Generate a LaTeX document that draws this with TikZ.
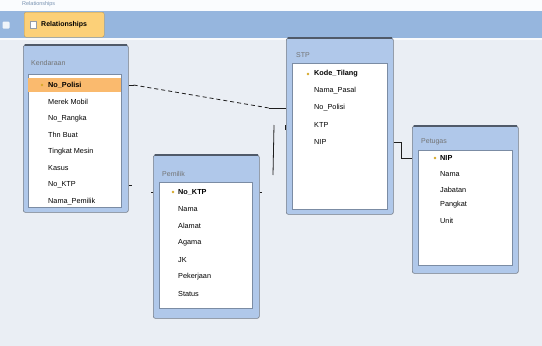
\documentclass[tikz,border=0pt]{standalone}
\usepackage{fontspec}
\setmainfont{Liberation Sans}
\usetikzlibrary{positioning,calc}
\definecolor{acbg}{RGB}{234,238,244}
\definecolor{actab}{RGB}{150,182,222}
\definecolor{actabon}{RGB}{252,208,120}
\definecolor{acedge}{RGB}{80,90,105}
\definecolor{acframe}{RGB}{176,200,234}
\definecolor{achead}{RGB}{214,226,242}
\definecolor{acsel}{RGB}{250,186,110}
\definecolor{ackey}{RGB}{214,168,40}
\definecolor{acline}{RGB}{30,30,30}
\tikzset{
  tblframe/.style={
    draw=acedge!80, fill=acframe, line width=0.6pt, rounded corners=2pt,
    anchor=north west, inner sep=0pt
  },
  tbltop/.style={draw=acedge, line width=1.3pt, line cap=round},
  tblbody/.style={draw=acframe!70!black, fill=white, anchor=north west, inner sep=0pt, line width=0.3pt},
  tbltitle/.style={anchor=west, inner sep=0pt, text=black!55, font=\fontsize{7}{8}\selectfont},
  fld/.style={anchor=west, inner sep=0pt, font=\fontsize{7.3}{8}\selectfont},
  keyfld/.style={fld, font=\fontsize{7.3}{8}\selectfont\bfseries},
  keyico/.style={fill=ackey, circle, inner sep=0pt, minimum size=2.6pt},
  sel/.style={fill=acsel, anchor=north west, inner sep=0pt},
  rel/.style={draw=acline, line width=0.8pt},
  reldash/.style={rel, dash pattern=on 4pt off 3pt}
}
\begin{document}
\begin{tikzpicture}[x=1pt,y=-1pt]
  \useasboundingbox (0,0) rectangle (542,346);
  \fill[acbg] (0,0) rectangle (542,346);
  % ribbon and tab
  \fill[white!94!acframe] (0,0) rectangle (542,11);
  \node[anchor=west, inner sep=0pt, text=actab!80!black, font=\fontsize{5.5}{6}\selectfont] (rib) at (22,4) {Relationships};
  \fill[actab] (0,11) rectangle (542,38);
  \fill[white!70!acbg] (0,38) rectangle (542,40);
  \node[fill=white!85!actab, minimum width=7pt, minimum height=7pt, inner sep=0pt, rounded corners=1pt] (nav) at (6,25) {};
  \node[fill=actabon, draw=actabon!70!black, line width=0.3pt, rounded corners=2pt, anchor=north west,
        minimum width=80pt, minimum height=25pt, inner sep=0pt] (tab) at (24,12) {};
  \node[draw=acedge!60, fill=white, minimum width=6pt, minimum height=7pt, inner sep=0pt] (tabico) at (33,25) {};
  \node[anchor=west, inner sep=0pt, font=\fontsize{7}{8}\selectfont\bfseries] (tabtxt) at (41,25) {Relationships};

  % Kendaraan
  \node[tblframe, minimum width=105pt, minimum height=167pt] (kend) at (23,45) {};
  \draw[tbltop] ([xshift=2pt]kend.north west) -- ([xshift=-2pt]kend.north east);
  \node[tbltitle] (kend-t) at (31,63) {Kendaraan};
  \node[tblbody, minimum width=93pt, minimum height=133pt] (kend-b) at (28,74) {};
  \node[sel, minimum width=93pt, minimum height=14pt] (kend-s) at (28,78) {};
  \node[keyico] (kend-k) at (42,85) {};
  \node[keyfld] (k1) at (48,85) {No\_Polisi};
  \node[fld] (k2) at (48,101.7) {Merek Mobil};
  \node[fld] (k3) at (48,118.4) {No\_Rangka};
  \node[fld] (k4) at (48,135.1) {Thn Buat};
  \node[fld] (k5) at (48,151.8) {Tingkat Mesin};
  \node[fld] (k6) at (48,168.5) {Kasus};
  \node[fld] (k7) at (48,185.2) {No\_KTP};
  \node[fld] (k8) at (48,202) {Nama\_Pemilik};

  % Pemilik
  \node[tblframe, minimum width=106pt, minimum height=163pt] (pem) at (153,155) {};
  \draw[tbltop] ([xshift=2pt]pem.north west) -- ([xshift=-2pt]pem.north east);
  \node[tbltitle] (pem-t) at (162,174) {Pemilik};
  \node[tblbody, minimum width=93pt, minimum height=126pt] (pem-b) at (159,182) {};
  \node[keyico] (pem-k) at (173,192) {};
  \node[keyfld] (p1) at (178,192) {No\_KTP};
  \node[fld] (p2) at (178,209) {Nama};
  \node[fld] (p3) at (178,226) {Alamat};
  \node[fld] (p4) at (178,243) {Agama};
  \node[fld] (p5) at (178,260) {JK};
  \node[fld] (p6) at (178,277) {Pekerjaan};
  \node[fld] (p7) at (178,294) {Status};

  % STP
  \node[tblframe, minimum width=107pt, minimum height=176pt] (stp) at (286,38) {};
  \draw[tbltop] ([xshift=2pt]stp.north west) -- ([xshift=-2pt]stp.north east);
  \node[tbltitle] (stp-t) at (296,55) {STP};
  \node[tblbody, minimum width=95pt, minimum height=146pt] (stp-b) at (292,63) {};
  \node[keyico] (stp-k) at (308,74) {};
  \node[keyfld] (s1) at (314,74) {Kode\_Tilang};
  \node[fld] (s2) at (314,91) {Nama\_Pasal};
  \node[fld] (s3) at (314,108) {No\_Polisi};
  \node[fld] (s4) at (314,125) {KTP};
  \node[fld] (s5) at (314,142) {NIP};

  % Petugas
  \node[tblframe, minimum width=106pt, minimum height=147pt] (ptg) at (412,126) {};
  \draw[tbltop] ([xshift=2pt]ptg.north west) -- ([xshift=-2pt]ptg.north east);
  \node[tbltitle] (ptg-t) at (421,142) {Petugas};
  \node[tblbody, minimum width=94pt, minimum height=115pt] (ptg-b) at (418,150) {};
  \node[keyico] (ptg-k) at (435,158) {};
  \node[keyfld] (g1) at (440,158) {NIP};
  \node[fld] (g2) at (440,174) {Nama};
  \node[fld] (g3) at (440,190) {Jabatan};
  \node[fld] (g4) at (440,205) {Pangkat};
  \node[fld] (g5) at (440,221) {Unit};

  % relationships
  \coordinate (r1a) at (kend.east |- k1);
  \coordinate (r1b) at (stp.west |- s3);
  \draw[rel] (r1a) -- ++(5,0) coordinate (r1c);
  \draw[rel] (r1b) -- ++(-17,0) coordinate (r1d);
  \draw[reldash] (r1c) -- (r1d);

  \coordinate (r2a) at (kend.east |- k7);
  \coordinate (r2b) at (pem.west |- p1);
  \draw[rel] (r2a) -- ++(3,0);
  \draw[rel] (r2b) -- ++(-2,0);

  \coordinate (r3a) at (pem.east |- p1);
  \coordinate (r3b) at (stp.west |- s4);
  \draw[rel] (r3a) -- ++(2,0);
  \draw[rel] (r3b) -- ++(-1,0) -- ++(0,5);
  \draw[rel] ($(r3b)+(-12,0)$) -- ($(r3b)+(-13,50)$);

  \coordinate (r4a) at (stp.east |- s5);
  \coordinate (r4b) at (ptg.west |- g1);
  \draw[rel] (r4a) -- ++(8,0) coordinate (r4c);
  \draw[rel] (r4c) |- (r4b);
\end{tikzpicture}
\end{document}
